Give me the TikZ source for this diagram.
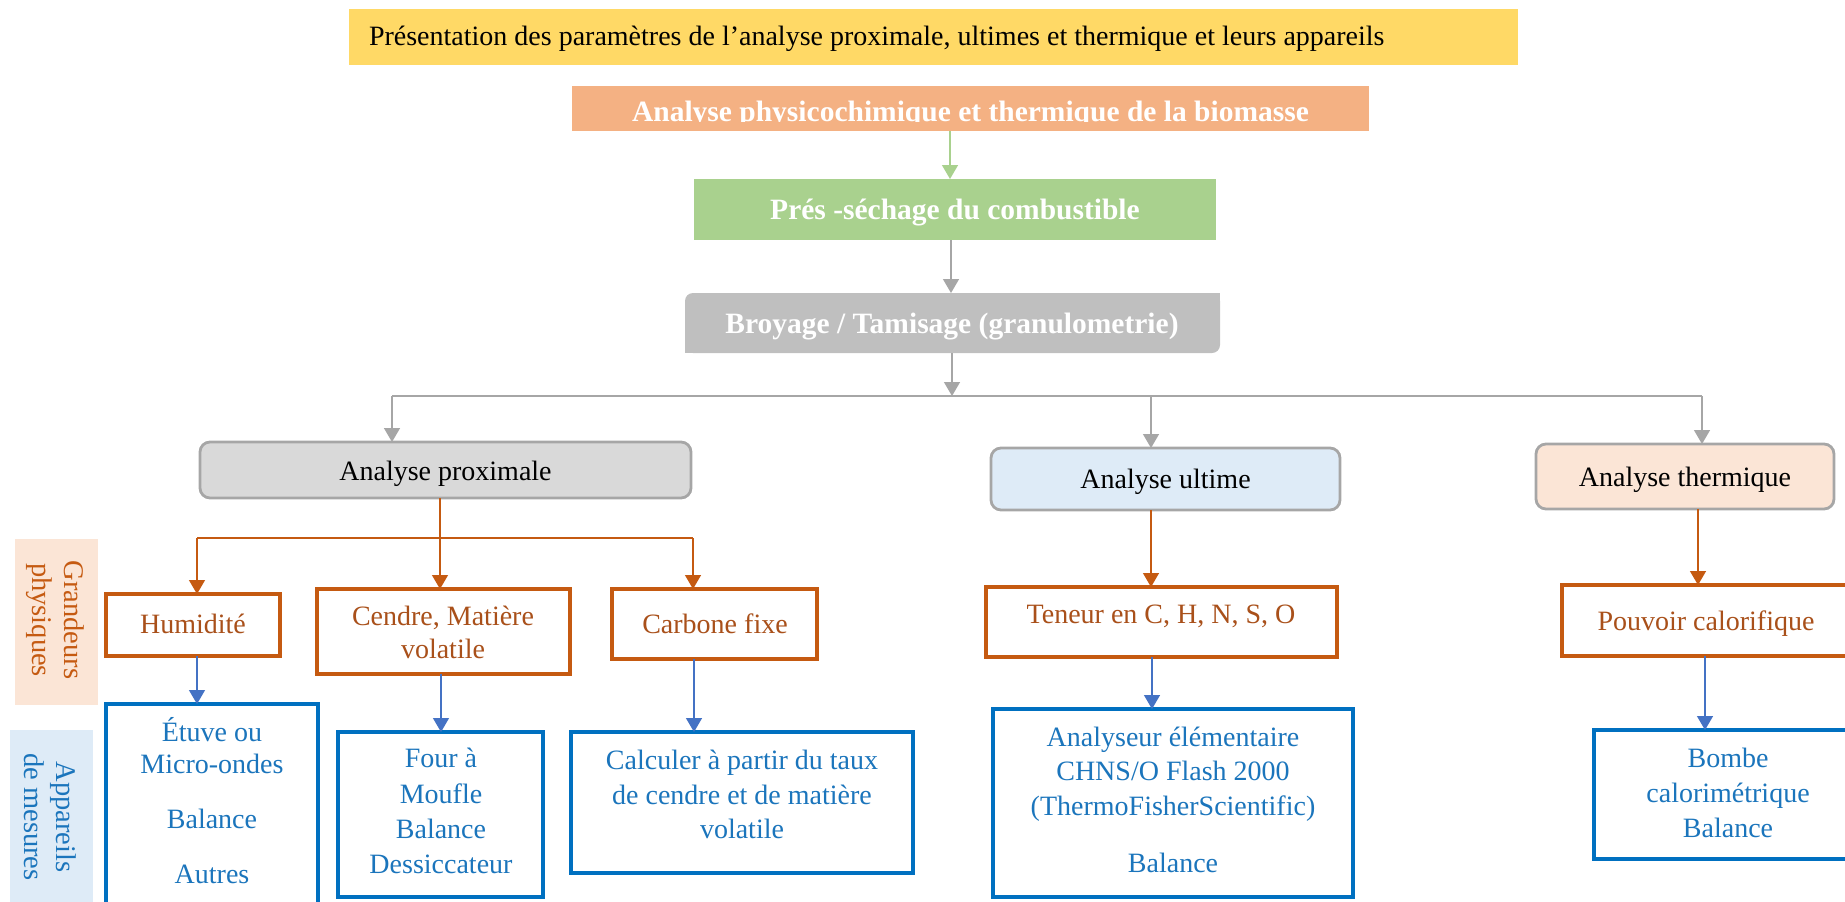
\documentclass[tikz,border=0pt]{standalone}
\usepackage{fontspec}
\setmainfont{Liberation Serif}
\usetikzlibrary{arrows.meta}
\definecolor{cYellow}{HTML}{FFD966}
\definecolor{cOrangeFill}{HTML}{F4B183}
\definecolor{cGreen}{HTML}{A9D18E}
\definecolor{cGrayBox}{HTML}{BFBFBF}
\definecolor{cProx}{HTML}{D9D9D9}
\definecolor{cGrayLine}{HTML}{A6A6A6}
\definecolor{cBlueFill}{HTML}{DEEBF7}
\definecolor{cPeach}{HTML}{FBE5D6}
\definecolor{cOrange}{HTML}{C55A11}
\definecolor{cOrangeText}{HTML}{A9501A}
\definecolor{cBlue}{HTML}{0070C0}
\definecolor{cBlueArrow}{HTML}{4472C4}
\definecolor{cBlueText}{HTML}{1B75BC}
\newcommand\fsreg{\fontsize{28}{34}\selectfont}
\newcommand\fsbold{\fontsize{29.5}{35}\selectfont\bfseries}
\begin{document}
\begin{tikzpicture}[x=1pt,y=-1pt,
  every node/.style={inner sep=0pt, outer sep=0pt},
  obox/.style={draw=cOrange, line width=3.3pt, fill=white},
  bbox/.style={draw=cBlue, line width=3.3pt, fill=white},
  rbox/.style={draw=cGrayLine, line width=2.8pt, rounded corners=10pt},
  otxt/.style={text=cOrangeText, font=\fsreg, anchor=base},
  btxt/.style={text=cBlueText, font=\fsreg, anchor=base},
  ktxt/.style={text=black, font=\fsreg, anchor=base},
  wtxt/.style={text=white, font=\fsbold, anchor=base},
  tipT/.style={-{Triangle[length=14pt,width=16pt]}},
  arrGray/.style={draw=cGrayLine, line width=1.5pt, tipT},
  lineGray/.style={draw=cGrayLine, line width=1.8pt},
  arrGreen/.style={draw=cGreen, line width=1.5pt, tipT},
  arrOrange/.style={draw=cOrange, line width=1.4pt, tipT},
  lineOrange/.style={draw=cOrange, line width=1.4pt},
  arrBlue/.style={draw=cBlueArrow, line width=1.4pt, tipT},
  sidelab/.style={rotate=-90, align=center, font=\fontsize{28.5}{32}\selectfont}
]
\useasboundingbox (0,0) rectangle (1845,902);
\clip (0,0) rectangle (1845,902);

% ---------- top title ----------
\node[fill=cYellow, minimum width=1169pt, minimum height=56pt] (title) at (933.5,37) {};
\node[ktxt, anchor=base west] (ttitle) at (369,45) {Présentation des paramètres de l’analyse proximale, ultimes et thermique et leurs appareils};

% ---------- orange header ----------
\node[fill=cOrangeFill, minimum width=797pt, minimum height=45pt] (orng) at (970.5,108.5) {};
\begin{scope}
  \clip (572,86) rectangle (1369,121);
  \node[wtxt] (torng) at (970.5,121.5) {Analyse physicochimique et thermique de la biomasse};
\end{scope}

% ---------- green ----------
\node[fill=cGreen, minimum width=522pt, minimum height=61pt] (gr) at (955,209.5) {};
\node[wtxt] (tgr) at (955,219) {Prés -séchage du combustible};

% ---------- gray ----------
\fill[cGrayBox, rounded corners=8pt] (685,293) rectangle (1220,353);
\fill[cGrayBox] (1200,293) rectangle (1220,313);
\fill[cGrayBox] (685,333) rectangle (705,353);
\node[minimum width=535pt, minimum height=60pt] (broy) at (952.5,323) {};
\node[wtxt] (tbroy) at (952,333) {Broyage / Tamisage (granulometrie)};

% ---------- analysis boxes ----------
\node[rbox, fill=cProx, minimum width=491pt, minimum height=56pt] (prox) at (445.5,470) {};
\node[ktxt] (tprox) at (445.5,480) {Analyse proximale};
\node[rbox, fill=cBlueFill, minimum width=349pt, minimum height=62pt] (ult) at (1165.5,479) {};
\node[ktxt] (tult) at (1165.5,488) {Analyse ultime};
\node[rbox, fill=cPeach, minimum width=298pt, minimum height=65pt] (ther) at (1685,476.5) {};
\node[ktxt] (tther) at (1685,486) {Analyse thermique};

% ---------- side labels ----------
\node[fill=cPeach, minimum width=83pt, minimum height=166pt] (gbox) at (56.5,622) {};
\node[sidelab, text=cOrange] (tgbox) at (55,620) {Grandeurs\\physiques};
\node[fill=cBlueFill, minimum width=83pt, minimum height=200pt] (abox) at (51.5,830) {};
\node[sidelab, text=cBlueText] (tabox) at (50,817) {Appareils\\de mesures};

% ---------- physical quantities ----------
\node[obox, minimum width=174pt, minimum height=62pt] (hum) at (193,625) {};
\node[otxt] (thum) at (193,633) {Humidité};
\node[obox, minimum width=253pt, minimum height=85pt] (cen) at (443.5,631.5) {};
\node[otxt] (tcen1) at (443,625) {Cendre, Matière};
\node[otxt] (tcen2) at (443,658) {volatile};
\node[obox, minimum width=205pt, minimum height=70pt] (carb) at (714.5,624) {};
\node[otxt] (tcarb) at (715,633) {Carbone fixe};
\node[obox, minimum width=351pt, minimum height=70pt] (ten) at (1161.5,622) {};
\node[otxt] (tten) at (1161,623) {Teneur en C, H, N, S, O};
\node[obox, minimum width=288pt, minimum height=71pt] (pouv) at (1706,620.5) {};
\node[otxt] (tpouv) at (1706,630) {Pouvoir calorifique};

% ---------- instruments ----------
\node[bbox, minimum width=212pt, minimum height=226pt] (etu) at (212,817) {};
\node[btxt] (tetu1) at (212,741) {Étuve ou};
\node[btxt] (tetu2) at (212,773) {Micro-ondes};
\node[btxt] (tetu3) at (212,828) {Balance};
\node[btxt] (tetu4) at (212,883) {Autres};
\node[bbox, minimum width=205pt, minimum height=165pt] (four) at (440.5,814.5) {};
\node[btxt] (tfour1) at (441,767) {Four à};
\node[btxt] (tfour2) at (441,803) {Moufle};
\node[btxt] (tfour3) at (441,838) {Balance};
\node[btxt] (tfour4) at (441,873) {Dessiccateur};
\node[bbox, minimum width=342pt, minimum height=141pt] (calc) at (742,802.5) {};
\node[btxt] (tcalc1) at (742,769) {Calculer à partir du taux};
\node[btxt] (tcalc2) at (742,804) {de cendre et de matière};
\node[btxt] (tcalc3) at (742,838) {volatile};
\node[bbox, minimum width=360pt, minimum height=188pt] (anal) at (1173,803) {};
\node[btxt] (tanal1) at (1173,746) {Analyseur élémentaire};
\node[btxt] (tanal2) at (1173,780) {CHNS/O Flash 2000};
\node[btxt] (tanal3) at (1173,815) {(ThermoFisherScientific)};
\node[btxt] (tanal4) at (1173,872) {Balance};
\node[bbox, minimum width=268pt, minimum height=129pt] (bomb) at (1728,794.5) {};
\node[btxt] (tbomb1) at (1728,767) {Bombe};
\node[btxt] (tbomb2) at (1728,802) {calorimétrique};
\node[btxt] (tbomb3) at (1728,837) {Balance};

% ---------- connector x positions ----------
\coordinate (xa) at (950,0);
\coordinate (xb) at (951,0);
\coordinate (j) at (952,396);
\coordinate (jl) at (392,396);
\coordinate (jr) at (1702,396);
\coordinate (xu) at (1151,0);
\coordinate (oj) at (440,538);
\coordinate (ojl) at (197,538);
\coordinate (ojr) at (693,538);
\coordinate (xt) at (1698,0);
\coordinate (bh) at (197,0);
\coordinate (bc) at (441,0);
\coordinate (bk) at (694,0);
\coordinate (bn) at (1152,0);
\coordinate (bp) at (1705,0);

% ---------- connectors ----------
\draw[arrGreen] (orng.south -| xa) -- (gr.north -| xa);
\draw[arrGray] (gr.south -| xb) -- (broy.north -| xb);
\draw[arrGray] (broy.south -| j) -- (j);
\draw[lineGray] (jl) -- (jr);
\draw[arrGray] (jl) -- (prox.north -| jl);
\draw[arrGray] (j -| xu) -- (ult.north -| xu);
\draw[arrGray] (jr) -- (ther.north -| jr);

\draw[lineOrange] (prox.south -| oj) -- (oj);
\draw[lineOrange] (ojl) -- (ojr);
\draw[arrOrange] (oj) -- (cen.north -| oj);
\draw[arrOrange] (ojl) -- (hum.north -| ojl);
\draw[arrOrange] (ojr) -- (carb.north -| ojr);
\draw[arrOrange] (ult.south -| xu) -- (ten.north -| xu);
\draw[arrOrange] (ther.south -| xt) -- (pouv.north -| xt);

\draw[arrBlue] (hum.south -| bh) -- (etu.north -| bh);
\draw[arrBlue] (cen.south -| bc) -- (four.north -| bc);
\draw[arrBlue] (carb.south -| bk) -- (calc.north -| bk);
\draw[arrBlue] (ten.south -| bn) -- (anal.north -| bn);
\draw[arrBlue] (pouv.south -| bp) -- (bomb.north -| bp);
\end{tikzpicture}
\end{document}
